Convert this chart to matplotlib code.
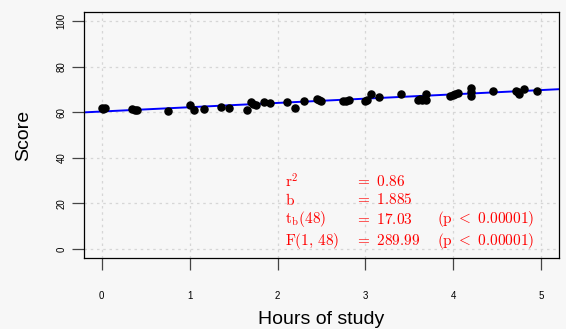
import matplotlib.pyplot as plt
import numpy as np

plt.rcParams['font.family'] = ['Liberation Sans', 'DejaVu Sans']
plt.rcParams['mathtext.fontset'] = 'cm'

# hours of study vs score
hours = [0.00, 0.02, 0.04, 0.35, 0.38, 0.40, 0.75, 1.00, 1.05, 1.16,
         1.36, 1.45, 1.65, 1.70, 1.72, 1.75, 1.85, 1.91, 2.11, 2.20,
         2.30, 2.45, 2.47, 2.50, 2.75, 2.78, 2.81, 3.00, 3.02, 3.06,
         3.15, 3.40, 3.60, 3.62, 3.64, 3.69, 3.69, 3.96, 4.00, 4.02,
         4.05, 4.20, 4.20, 4.20, 4.45, 4.71, 4.73, 4.75, 4.80, 4.95]
score = [61.8, 61.5, 61.8, 61.2, 61.0, 60.8, 60.7, 63.0, 60.8, 61.5,
         62.3, 61.8, 61.0, 64.5, 63.8, 63.3, 64.5, 64.0, 64.5, 62.0,
         64.9, 66.0, 65.5, 64.7, 64.7, 65.0, 65.5, 64.7, 65.2, 67.8,
         66.7, 68.2, 65.5, 66.0, 65.5, 65.5, 67.8, 67.1, 67.5, 67.8,
         68.4, 70.7, 68.9, 67.1, 69.3, 69.3, 68.8, 68.1, 70.0, 69.3]

intercept = 60.3
slope = 1.885

stat_names = [r'$\mathrm{r}^2$', r'$\mathrm{b}$', r'$\mathrm{t_b(48)}$', r'$\mathrm{F(1,\,48)}$']
stat_values = [r'$=\ 0.86$', r'$=\ 1.885$', r'$=\ 17.03$', r'$=\ 289.99$']
stat_p = ['', '', r'$\mathrm{(p\ <\ 0.00001)}$', r'$\mathrm{(p\ <\ 0.00001)}$']

bg = '#f7f7f7'
fig = plt.figure(figsize=(5.66, 3.29), dpi=100, facecolor=bg)
ax = fig.add_axes([0.1484, 0.216, 0.8392, 0.7475], facecolor=bg)

ax.set_xlim(-0.2, 5.2)
ax.set_ylim(-4, 104)
ax.set_xticks(range(0, 6))
ax.set_yticks(range(0, 101, 20))

ax.grid(True, color='#d6d6d6', linestyle=(0, (2, 3)), linewidth=0.9)
ax.set_axisbelow(True)

ax.axline((0, intercept), slope=slope, color='#0000ff', linewidth=1.4, zorder=2)
ax.scatter(hours, score, s=26, color='black', zorder=3)

for sp in ax.spines.values():
    sp.set_color('black')
    sp.set_linewidth(0.9)

ax.tick_params(axis='both', direction='out', length=8.5, width=0.9, color='#444444',
               labelsize=7)
ax.tick_params(axis='x', pad=15)
ax.tick_params(axis='y', pad=4)
for lab in ax.get_yticklabels():
    lab.set_rotation(90)
    lab.set_va('center')

ax.set_xlabel('Hours of study', fontsize=14, labelpad=7.5)
ax.set_ylabel('Score', fontsize=14, labelpad=17.5)

rows_y = [29.5, 21.6, 12.9, 3.6]
for y, n, v, p in zip(rows_y, stat_names, stat_values, stat_p):
    ax.text(2.09, y, n, color='#ff0000', fontsize=11, va='center', ha='left')
    ax.text(2.88, y, v, color='#ff0000', fontsize=11, va='center', ha='left')
    if p:
        ax.text(3.81, y, p, color='#ff0000', fontsize=11, va='center', ha='left')

fig.savefig('out.png', dpi=100, facecolor=bg)
